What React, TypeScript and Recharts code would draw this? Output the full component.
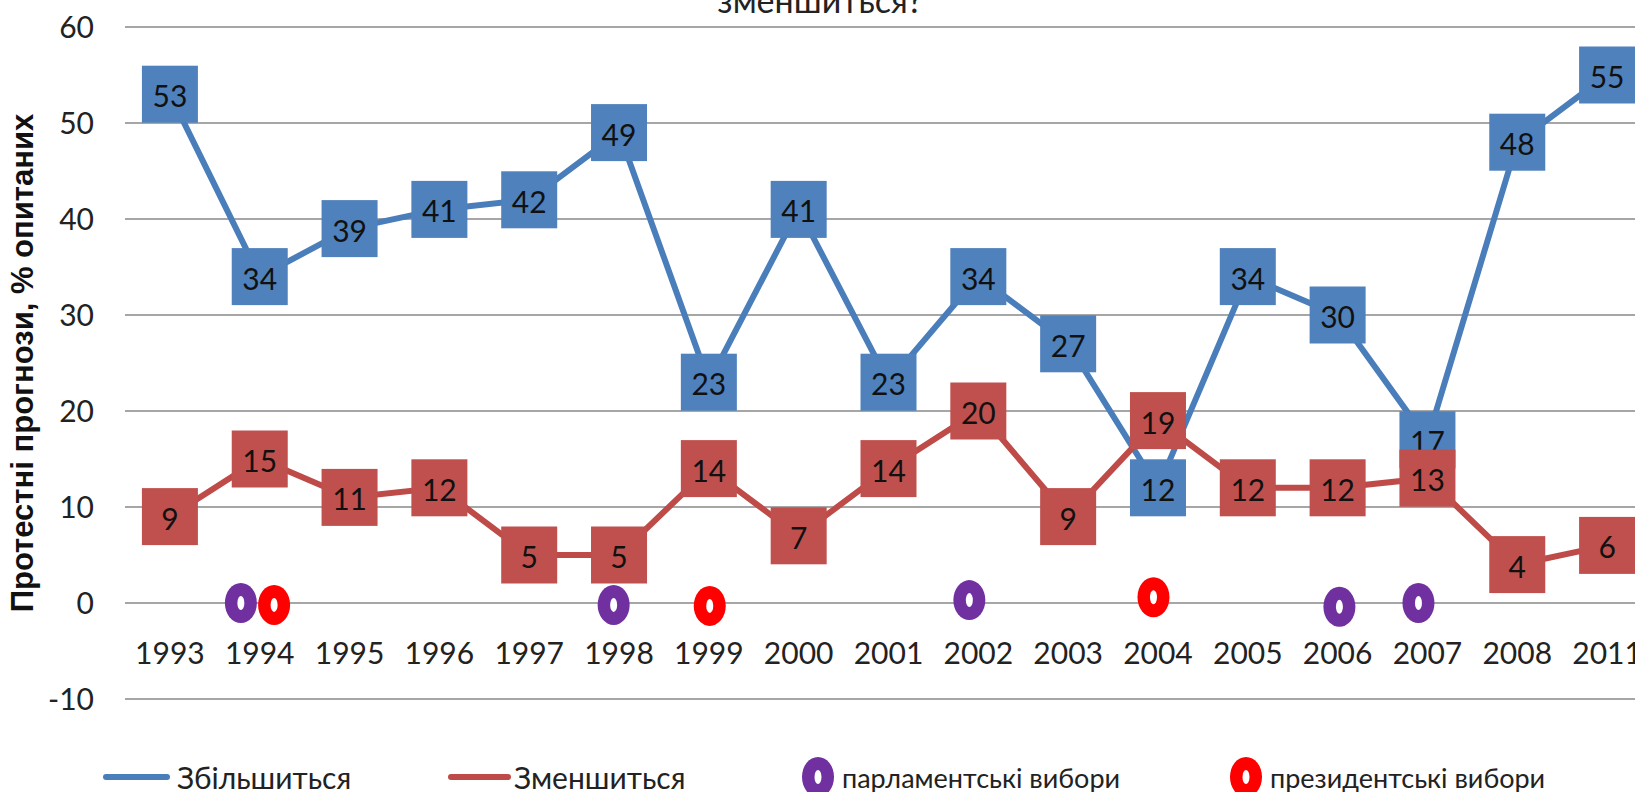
import React from "react";
import { ComposedChart, Line, Scatter, XAxis, YAxis, CartesianGrid } from "recharts";

const YEARS = [
  "1993", "1994", "1995", "1996", "1997", "1998", "1999", "2000", "2001",
  "2002", "2003", "2004", "2005", "2006", "2007", "2008", "2011",
];
const INCREASE = [53, 34, 39, 41, 42, 49, 23, 41, 23, 34, 27, 12, 34, 30, 17, 48, 55];
const DECREASE = [9, 15, 11, 12, 5, 5, 14, 7, 14, 20, 9, 19, 12, 12, 13, 4, 6];
const Y_TICKS = [-10, 0, 10, 20, 30, 40, 50, 60];

// election markers sit between the year ticks, x is a position on the year index
const PARLIAMENT_X = [0.79, 4.94, 8.9, 13.02, 13.9];
const PARLIAMENT_Y = [0, -0.2, 0.3, -0.4, 0];
const PRESIDENT_X = [1.16, 6.01, 10.95];
const PRESIDENT_Y = [-0.2, -0.3, 0.6];

const BLUE_LINE = "#4A7EBB";
const BLUE_BOX = "#4F81BD";
const RED_LINE = "#BE4B48";
const RED_BOX = "#C0504D";
const PURPLE = "#7030A0";
const PRES_RED = "#FF0000";

const FONT = 'Lato, "Liberation Sans Narrow", sans-serif';

const CHART_W = 1662;
const CHART_H = 745;
const MARGIN = { top: 27, right: 10, bottom: 0, left: 0 };
const X_AXIS_H = 46;
const PLOT_H = CHART_H - MARGIN.top - MARGIN.bottom - X_AXIS_H;
const Y_MIN = -10;
const Y_MAX = 60;
// year labels hang just under the zero line, like the Excel original
const ZERO_Y = MARGIN.top + (PLOT_H * Y_MAX) / (Y_MAX - Y_MIN);

const chartData = YEARS.map((year, i) => ({
  x: i,
  year,
  up: INCREASE[i],
  down: DECREASE[i],
}));
const parliamentData = PARLIAMENT_X.map((x, i) => ({ x, y: PARLIAMENT_Y[i] }));
const presidentData = PRESIDENT_X.map((x, i) => ({ x, y: PRESIDENT_Y[i] }));

function boxDot(fill: string) {
  return (props: any) => {
    const { cx, cy, value, index } = props;
    if (cx == null || cy == null) return <g key={index} />;
    return (
      <g key={index}>
        <rect x={cx - 28} y={cy - 28.5} width={56} height={57} fill={fill} />
        <text
          x={cx}
          y={cy + 1}
          textAnchor="middle"
          dominantBaseline="central"
          fontFamily={FONT}
          fontSize={30}
          fill="#111"
        >
          {value}
        </text>
      </g>
    );
  };
}

function donut(color: string) {
  return (props: any) => {
    const { cx, cy } = props;
    return (
      <g>
        <ellipse cx={cx} cy={cy} rx={16} ry={20} fill={color} />
        <ellipse cx={cx} cy={cy} rx={3.5} ry={7} fill="#fff" />
      </g>
    );
  };
}

function YearTick(props: any) {
  const { x, payload } = props;
  return (
    <text
      x={x}
      y={ZERO_Y + 49}
      textAnchor="middle"
      dominantBaseline="central"
      fontFamily={FONT}
      fontSize={30}
      fill="#222"
    >
      {YEARS[payload.value]}
    </text>
  );
}

function YTitle(props: any) {
  const vb = props.viewBox || {};
  const cy = (vb.y ?? 27) + (vb.height ?? 672) / 2;
  const cx = 22;
  return (
    <text
      x={cx}
      y={cy}
      transform={`rotate(-90 ${cx} ${cy})`}
      textAnchor="middle"
      dominantBaseline="central"
      fontFamily='"Liberation Sans", Arial, sans-serif'
      fontWeight="bold"
      fontSize={31}
      fill="#111"
    >
      Протестні прогнози, % опитаних
    </text>
  );
}

function LegendDonut({ color }: { color: string }) {
  return (
    <svg width={34} height={42} style={{ display: "block" }}>
      <ellipse cx={17} cy={21} rx={16} ry={20} fill={color} />
      <ellipse cx={17} cy={21} rx={3.5} ry={7} fill="#fff" />
    </svg>
  );
}

export default function App() {
  const legendText: React.CSSProperties = {
    position: "absolute",
    top: 777,
    transform: "translateY(-50%)",
    fontFamily: FONT,
    whiteSpace: "nowrap",
    color: "#222",
    lineHeight: 1,
  };
  return (
    <div
      style={{
        position: "absolute",
        left: 0,
        top: 0,
        width: 1635,
        height: 792,
        overflow: "hidden",
        background: "#fff",
      }}
    >
      <div
        style={{
          position: "absolute",
          left: 820,
          top: 10,
          transform: "translate(-50%, -78%)",
          fontFamily: FONT,
          fontSize: 34,
          color: "#222",
          whiteSpace: "nowrap",
          lineHeight: 1,
        }}
      >
        зменшиться?
      </div>

      <ComposedChart width={CHART_W} height={CHART_H} data={chartData} margin={MARGIN}>
        <CartesianGrid horizontal vertical={false} stroke="#A6A6A6" strokeWidth={2} />
        <XAxis
          type="number"
          dataKey="x"
          domain={[-0.5, YEARS.length - 0.5]}
          ticks={YEARS.map((_, i) => i)}
          interval={0}
          axisLine={false}
          tickLine={false}
          height={X_AXIS_H}
          tick={<YearTick />}
        />
        <YAxis
          domain={[Y_MIN, Y_MAX]}
          ticks={Y_TICKS}
          interval={0}
          axisLine={false}
          tickLine={false}
          tickSize={0}
          tickMargin={31}
          width={125}
          tick={{ fontFamily: FONT, fontSize: 30, fill: "#222" }}
          label={(p: any) => <YTitle {...p} />}
        />
        <Scatter data={parliamentData} dataKey="y" shape={donut(PURPLE)} isAnimationActive={false} />
        <Scatter data={presidentData} dataKey="y" shape={donut(PRES_RED)} isAnimationActive={false} />
        <Line
          dataKey="up"
          stroke={BLUE_LINE}
          strokeWidth={6}
          dot={boxDot(BLUE_BOX)}
          activeDot={false}
          isAnimationActive={false}
        />
        <Line
          dataKey="down"
          stroke={RED_LINE}
          strokeWidth={6}
          dot={boxDot(RED_BOX)}
          activeDot={false}
          isAnimationActive={false}
        />
      </ComposedChart>

      <div style={{ position: "absolute", left: 103, top: 774, width: 67, height: 6, borderRadius: 3, background: BLUE_LINE }} />
      <div style={{ ...legendText, left: 177, fontSize: 30 }}>Збільшиться</div>
      <div style={{ position: "absolute", left: 448, top: 774, width: 63, height: 6, borderRadius: 3, background: RED_LINE }} />
      <div style={{ ...legendText, left: 514, fontSize: 30 }}>Зменшиться</div>
      <div style={{ position: "absolute", left: 801, top: 756 }}>
        <LegendDonut color={PURPLE} />
      </div>
      <div style={{ ...legendText, left: 842, fontSize: 27 }}>парламентські вибори</div>
      <div style={{ position: "absolute", left: 1229, top: 756 }}>
        <LegendDonut color={PRES_RED} />
      </div>
      <div style={{ ...legendText, left: 1270, fontSize: 27 }}>президентські вибори</div>
    </div>
  );
}
